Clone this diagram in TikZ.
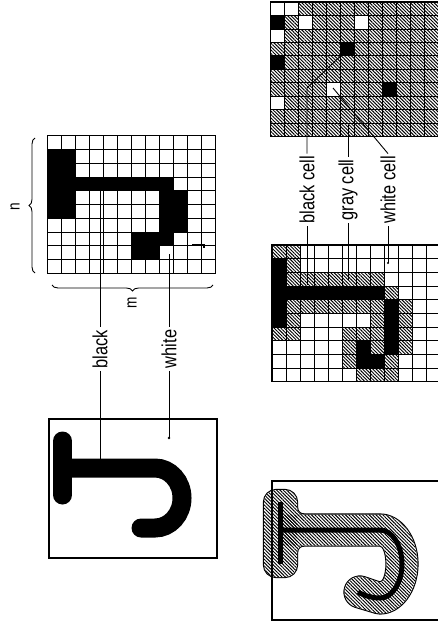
\documentclass[tikz,border=0pt]{standalone}
\usepackage{fontspec}
\setmainfont{Liberation Sans}[FakeStretch=0.8]
\usetikzlibrary{patterns.meta,decorations.pathreplacing}
\newcommand\Jparts[1]{%
  \path[#1,rounded corners=12pt] (264,490) rectangle (297,577);
  \path[#1] (297,514.5) -- (297,507.5) arc[start angle=180,end angle=90,radius=7] -- cycle;
  \path[#1] (297,545.5) -- (297,552.5) arc[start angle=180,end angle=270,radius=7] -- cycle;
  \path[#1] (281,514.5) -- (380,514.5)
     arc[start angle=-90,end angle=90,x radius=37.5,y radius=49.5]
     -- (375.55,612.85) -- (355.55,606.85)
     arc[start angle=106.7,end angle=286.7,radius=15.5]
     -- (380,582.5)
     arc[start angle=90,end angle=-90,x radius=6.5,y radius=18.5]
     -- (281,545.5) -- cycle;
}
\begin{document}
\begin{tikzpicture}[x=1pt,y=-1pt,
  lbl/.style={rotate=90,inner sep=2.5pt,font=\fontsize{20.5}{22}\selectfont},
  nm/.style={rotate=90,inner sep=1pt,font=\fontsize{17}{19}\selectfont},
  lead/.style={line width=0.9pt},
  hatchfill/.style={pattern={Lines[angle=-45,distance=2.4pt,line width=0.95pt]}},
  gridline/.style={line width=0.7pt},
  frame/.style={line width=1.4pt},
  bracestyle/.style={decorate,decoration={brace,amplitude=6pt},line width=0.9pt}]
\useasboundingbox (0,0) rectangle (438,631);
\clip (0,0) rectangle (438,631);

% ---------- grid A (binary) ----------
\begin{scope}[shift={(47.7,135.7)},x=14pt,y=-13.76pt]
  \fill (0,1) rectangle (2,6);
  \fill (0,3) rectangle (9,4);
  \fill (8,4) rectangle (10,7);
  \fill (6,7) rectangle (9,8);
  \fill (6,8) rectangle (8,9);
  \foreach \i in {1,...,11} \draw[gridline] (\i,0) -- (\i,10);
  \foreach \j in {1,...,9} \draw[gridline] (0,\j) -- (12,\j);
  \draw[frame] (0,0) rectangle (12,10);
\end{scope}
\draw[line width=1.8pt] (192,245) -- (204,245) -- (204,248);

% braces
\draw[bracestyle] (35,273) -- (35,138);
\draw[bracestyle] (213,285) -- (52,285);
\node[nm] (ln) at (15,207) {n};
\node[nm] (lm) at (132,303) {m};

% ---------- left J ----------
\draw[frame] (49,419) rectangle (217,558);
\draw[line width=19pt,line cap=round] (62.5,441) -- (62.5,495);
\draw[line width=19pt,line cap=round] (62.5,468) -- (155,468)
   arc[start angle=-90,end angle=90,x radius=27,y radius=30] -- (141,528);

% left leaders
\coordinate (aB) at (100,191);
\coordinate (jB) at (100,459);
\coordinate (aW) at (169,254);
\coordinate (jW) at (169,438);
\node[lbl] (tblack) at (100,349) {black};
\node[lbl] (twhite) at (169,349) {white};
\draw[lead] (aB) -- (tblack.east);
\draw[lead] (tblack.west) -- (jB);
\draw[lead] (aW) -- (twhite.east);
\draw[lead] (twhite.west) -- (jW);
\fill (jW) circle[radius=1.3];

% ---------- grid C (top right) ----------
\begin{scope}[shift={(270.7,2)},x=14pt,y=-13.45pt]
  \path[hatchfill] (0,0) rectangle (12,10);
  \foreach \a/\b in {0/0,1/0,2/1,6/1,0/2,4/6,0/7}
    \fill[white] (\a,\b) rectangle ++(1,1);
  \foreach \a/\b in {0/1,5/3,0/4,8/6}
    \fill (\a,\b) rectangle ++(1,1);
  \foreach \i in {1,...,11} \draw[gridline] (\i,0) -- (\i,10);
  \foreach \j in {1,...,9} \draw[gridline] (0,\j) -- (12,\j);
  \draw[frame] (0,0) rectangle (12,10);
\end{scope}

% ---------- grid B (middle right) ----------
\begin{scope}[shift={(272,245)},x=14pt,y=-13.67pt]
  \foreach \a/\b/\c/\d in {0/0/2/1, 1/1/2/2, 1/2/8/3, 8/3/9/4, 1/4/8/5, 9/4/10/8,
      1/5/2/6, 7/5/8/8, 0/6/2/7, 5/6/7/7, 5/7/6/9, 8/8/9/9, 6/9/9/10}
    \path[hatchfill] (\a,\b) rectangle (\c,\d);
  \foreach \a/\b/\c/\d in {0/1/1/3, 0/3/8/4, 0/4/1/6, 8/4/9/8, 6/7/7/8, 6/8/8/9}
    \fill (\a,\b) rectangle (\c,\d);
  \foreach \i in {1,...,11} \draw[gridline] (\i,0) -- (\i,10);
  \foreach \j in {1,...,9} \draw[gridline] (0,\j) -- (12,\j);
  \draw[frame] (0,0) rectangle (12,10);
\end{scope}

% right leaders
\coordinate (cB) at (340.7,55.8);
\coordinate (kB) at (307,88);
\coordinate (bB) at (307,285);
\coordinate (cG) at (348,125);
\coordinate (bG) at (348,280);
\coordinate (cW) at (333,88);
\coordinate (bW) at (388,263);
\node[lbl] (tbc) at (307,190) {black cell};
\node[lbl] (tgc) at (348,190) {gray cell};
\node[lbl] (twc) at (388,190) {white cell};
\draw[lead] (cB) -- (kB) -- (tbc.east);
\draw[lead] (tbc.west) -- (bB);
\draw[lead] (cG) -- (tgc.east);
\draw[lead] (tgc.west) -- (bG);
\draw[lead] (cW) -- (twc.east);
\draw[lead] (twc.west) -- (bW);
\fill (bW) circle[radius=1.2];

% ---------- right J (hatched) ----------
\Jparts{draw,line width=2.2pt}
\Jparts{fill=white}
\Jparts{hatchfill}
\draw[frame] (272,481) rectangle (440,620);
\draw[line width=5pt] (280.7,502) -- (280.7,564);
\draw[line width=5pt] (281,530) -- (380,530)
   arc[start angle=-90,end angle=90,x radius=22,y radius=34]
   .. controls (372,598) and (365,596) .. (358,592);
\end{tikzpicture}
\end{document}
